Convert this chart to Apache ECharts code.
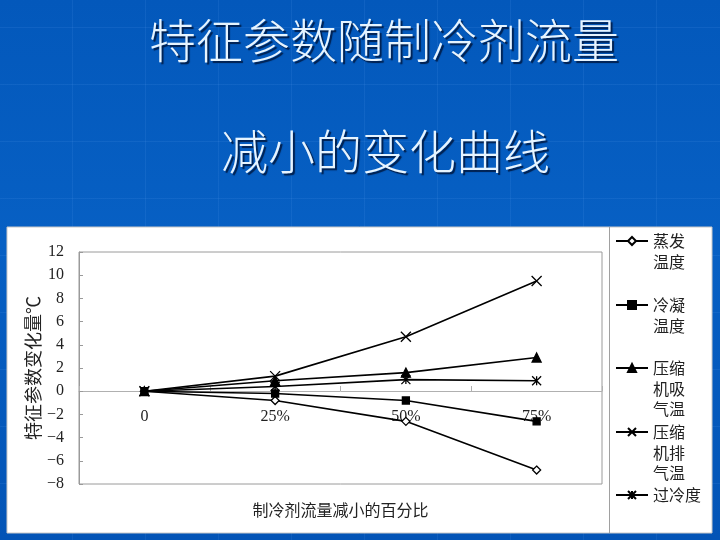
<!DOCTYPE html>
<html>
<head>
<meta charset="utf-8">
<script src="https://cdn.jsdelivr.net/npm/echarts@6/dist/echarts.min.js"></script>
<style>
html,body{margin:0;padding:0;}
body{
  width:720px;height:540px;overflow:hidden;
  background:
    repeating-linear-gradient(90deg, rgba(255,255,255,0) 0px, rgba(255,255,255,0) 72px, rgba(120,180,255,0.10) 72px, rgba(120,180,255,0.10) 73px),
    repeating-linear-gradient(0deg, rgba(255,255,255,0) 0px, rgba(255,255,255,0) 56px, rgba(120,180,255,0.10) 56px, rgba(120,180,255,0.10) 57px),
    linear-gradient(180deg, #0358bb 0%, #0760c4 45%, #0354b6 100%);
}
#chart{width:720px;height:540px;}
</style>
</head>
<body>
<div id="chart"></div>
<script>
const titleLine1 = '特征参数随制冷剂流量';
const titleLine2 = '减小的变化曲线';
const categories = ['0', '25%', '50%', '75%'];
const seriesNames = ['蒸发温度', '冷凝温度', '压缩机吸气温', '压缩机排气温', '过冷度'];
const evapTemp = [0, -0.8, -2.6, -6.8];
const condTemp = [0, -0.2, -0.8, -2.6];
const suctionTemp = [0, 0.9, 1.6, 2.9];
const dischargeTemp = [0, 1.3, 4.7, 9.5];
const subcooling = [0, 0.4, 1.0, 0.9];
const yTicks = { min: -8, max: 12, interval: 2 };
const xAxisName = '制冷剂流量减小的百分比';
const yAxisName = '特征参数变化量℃';

const values = [evapTemp, condTemp, suctionTemp, dischargeTemp, subcooling];
const symbols = [
  'diamond',
  'rect',
  'triangle',
  'path://M0,0L10,10M10,0L0,10',
  'path://M0,0L10,10M10,0L0,10M5,0L5,10'
];
const symbolSizes = [8, 7, 9, 10, 9];
const fills = ['#ffffff', '#000000', '#000000', 'none', 'none'];

const cjk = '"Noto Sans CJK SC", sans-serif';
const serif = '"Liberation Serif", "DejaVu Serif", serif';

function splitName(n) {
  if (n.length <= 3) return [n];
  const parts = [];
  for (let i = 0; i < n.length; i += 2) parts.push(n.slice(i, i + 2));
  return parts;
}
// first text line sits on the legend icon: pad with blank lines above
function legendLabel(n) {
  const parts = splitName(n);
  const pad = [];
  for (let i = 1; i < parts.length; i++) pad.push(' ');
  return pad.concat(parts).join('\n');
}

const LH = 20.5;
const legendCenters = [241, 305, 368, 432, 495];
const legends = seriesNames.map((name, i) => {
  const lines = splitName(name).length;
  return {
    data: [name],
    orient: 'vertical',
    left: 615,
    top: legendCenters[i] - (2 * lines - 1) * LH / 2,
    padding: 0,
    itemWidth: 32,
    itemHeight: 10,
    formatter: legendLabel,
    selectedMode: false,
    textStyle: {
      fontFamily: cjk,
      fontSize: 16,
      color: '#222',
      lineHeight: LH
    }
  };
});

// grid geometry
const gridTop = 252, gridHeight = 232;
const zeroOffset = -Math.round(gridHeight * (0 - yTicks.min) / (yTicks.max - yTicks.min));

const chart = echarts.init(document.getElementById('chart'));
chart.setOption({
  animation: false,
  backgroundColor: 'transparent',
  title: [
    {
      text: titleLine1, left: 149, top: 17, padding: 0,
      textStyle: { fontFamily: cjk, fontSize: 47, fontWeight: 300, color: '#e6f4ff',
        textShadowColor: '#00204f', textShadowOffsetX: 2, textShadowOffsetY: 2, textShadowBlur: 1 }
    },
    {
      text: titleLine2, left: 221, top: 128, padding: 0,
      textStyle: { fontFamily: cjk, fontSize: 47, fontWeight: 300, color: '#e6f4ff',
        textShadowColor: '#00204f', textShadowOffsetX: 2, textShadowOffsetY: 2, textShadowBlur: 1 }
    }
  ],
  graphic: [
    { type: 'rect', z: -100, silent: true, shape: { x: 7, y: 227, width: 705, height: 306 },
      style: { fill: '#ffffff', stroke: '#c8c8c8', lineWidth: 1 } },
    { type: 'line', z: -99, silent: true, shape: { x1: 609.5, y1: 227, x2: 609.5, y2: 533 },
      style: { stroke: '#a0a0a0', lineWidth: 1 } }
  ],
  legend: legends,
  grid: {
    left: 79, top: gridTop, width: 523, height: gridHeight,
    containLabel: false,
    outerBoundsMode: 'none',
    show: true, backgroundColor: '#ffffff', borderColor: '#9a9a9a', borderWidth: 1
  },
  xAxis: {
    type: 'category',
    data: categories,
    boundaryGap: true,
    offset: zeroOffset,
    axisLine: { onZero: false, lineStyle: { color: '#b0b0b0', width: 1 } },
    axisTick: { show: true, inside: true, length: 5, lineStyle: { color: '#b0b0b0' } },
    axisLabel: { fontFamily: serif, fontSize: 16, color: '#222', margin: 18 },
    name: xAxisName,
    nameLocation: 'middle',
    nameGap: 111,
    nameMoveOverlap: false,
    nameTextStyle: { fontFamily: cjk, fontSize: 16, color: '#222' }
  },
  yAxis: {
    type: 'value',
    min: yTicks.min, max: yTicks.max, interval: yTicks.interval,
    axisLine: { show: true, lineStyle: { color: '#9a9a9a' } },
    axisTick: { show: true, inside: true, length: 4, lineStyle: { color: '#9a9a9a' } },
    splitLine: { show: false },
    axisLabel: {
      fontFamily: serif, fontSize: 16, color: '#222', margin: 15,
      formatter: v => (v < 0 ? '\u2212' + (-v) : String(v))
    },
    name: yAxisName,
    nameLocation: 'middle',
    nameRotate: 90,
    nameGap: 37,
    nameMoveOverlap: false,
    nameTextStyle: { fontFamily: cjk, fontSize: 18, color: '#222' }
  },
  series: seriesNames.map((name, i) => ({
    type: 'line',
    name: name,
    data: values[i],
    symbol: symbols[i],
    symbolSize: symbolSizes[i],
    showAllSymbol: true,
    lineStyle: { color: '#000', width: 1.6 },
    itemStyle: { color: fills[i], borderColor: '#000', borderWidth: 1.3 },
    emphasis: { disabled: true }
  }))
});
</script>
</body>
</html>
